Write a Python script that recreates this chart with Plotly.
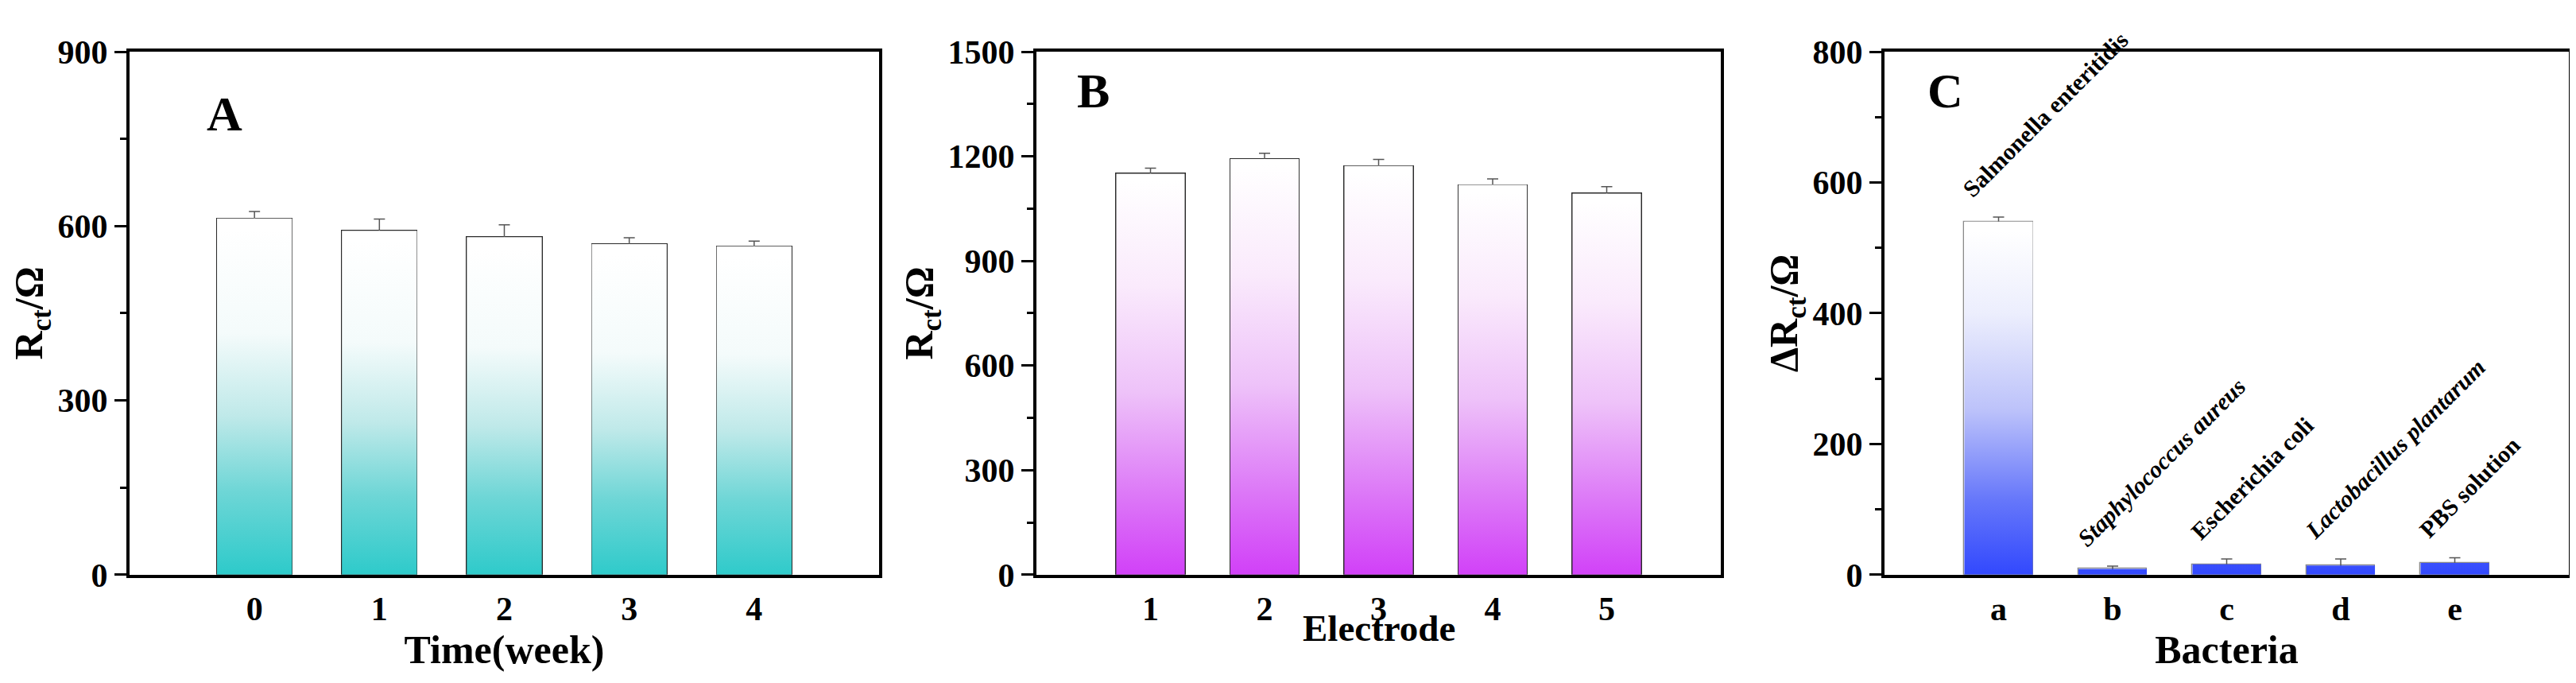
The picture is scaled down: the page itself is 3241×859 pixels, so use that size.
import plotly.graph_objects as go

# panel A: stability over time
weeks = [0, 1, 2, 3, 4]
rct_time = [613, 592, 581, 569, 565]
rct_time_err = [12, 20, 21, 11, 9]

# panel B: reproducibility between electrodes
electrodes = [1, 2, 3, 4, 5]
rct_elec = [1150, 1192, 1172, 1118, 1093]
rct_elec_err = [16, 17, 19, 17, 20]

# panel C: selectivity
bact_pos = [0, 1, 2, 3, 4]
bact_ticks = ['a', 'b', 'c', 'd', 'e']
bact_names = ['Salmonella enteritidis', '<i>Staphylococcus aureus</i>', 'Escherichia coli',
              '<i>Lactobacillus plantarum</i>', 'PBS solution']
d_rct = [540, 9, 16, 14, 18]
d_rct_err = [7, 4, 8, 10, 8]

W, H = 3241, 859
FONT = 'Liberation Serif'
BW = 0.6

scale_a = [[0, '#16c6c6'], [0.3, '#6ed6d6'], [0.5, '#bfe9e9'], [0.72, '#f4fbfb'], [1, '#ffffff']]
scale_b = [[0, '#cd2cf8'], [0.25, '#dc76f7'], [0.5, '#eec2f9'], [0.75, '#faeafc'], [1, '#ffffff']]
scale_c = [[0, '#1d36ff'], [0.28, '#6677fa'], [0.52, '#bcc2fa'], [0.78, '#eceefd'], [1, '#ffffff']]

fig = go.Figure()


def add_panel(xs, ys, errs, scale, edge, ew, xa, ya, shared=False):
    # gradient fill per bar (panel C shares one gradient over the tallest bar)
    for x, y in zip(xs, ys):
        top = max(ys) if shared else y
        fig.add_trace(go.Scatter(
            x=[x - BW / 2, x - BW / 2, x + BW / 2, x + BW / 2, x - BW / 2],
            y=[0, y, y, 0, 0],
            mode='lines', fill='toself', line=dict(width=0),
            fillgradient=dict(type='vertical', colorscale=scale, start=0, stop=top),
            xaxis=xa, yaxis=ya, showlegend=False, hoverinfo='skip'))
    fig.add_trace(go.Bar(
        x=xs, y=ys, width=BW, marker=dict(color='rgba(0,0,0,0)', line=dict(color=edge, width=ew)),
        error_y=dict(type='data', array=errs, color='#555555', thickness=1.5, width=7),
        xaxis=xa, yaxis=ya, showlegend=False))


add_panel(weeks, rct_time, rct_time_err, scale_a, '#2a2a2a', 2, 'x', 'y')
add_panel(electrodes, rct_elec, rct_elec_err, scale_b, '#2a2a2a', 2, 'x2', 'y2')
add_panel(bact_pos, d_rct, d_rct_err, scale_c, '#8a8a8a', 1.3, 'x3', 'y3', shared=True)

for name, x, y, e in zip(bact_names, bact_pos, d_rct, d_rct_err):
    fig.add_annotation(x=x, y=y + e, xref='x3', yref='y3', text='<b>' + name + '</b>',
                       showarrow=False, textangle=-45, xanchor='left', yanchor='bottom',
                       xshift=-54, yshift=16, font=dict(family=FONT, size=30, color='black'))

for letter, xr, yr, px, py in [('A', 'x', 'y', 0.127, 0.881), ('B', 'x2', 'y2', 0.0825, 0.925),
                               ('C', 'x3', 'y3', 0.0894, 0.925)]:
    fig.add_annotation(x=px, y=py, xref=xr + ' domain', yref=yr + ' domain', text='<b>' + letter + '</b>',
                       showarrow=False, xanchor='center', yanchor='middle',
                       font=dict(family=FONT, size=62, color='black'))

tickfont = dict(family=FONT, size=42, color='black', weight='bold')
titlefont = dict(family=FONT, size=50, color='black', weight='bold')
ytitlefont = dict(family=FONT, size=50, color='black', weight='bold')
ydom = [1 - 732 / H, 1 - 37 / H]

# the Electrode title sits tight against its tick labels, so it is an annotation
fig.add_annotation(x=0.5, y=(732 - 803) / 695, xref='x2 domain', yref='y2 domain',
                   text='<b>Electrode</b>', showarrow=False, xanchor='center', yanchor='middle',
                   font=dict(family=FONT, size=47, color='black'))


def xax(dom, rng, tv, tt, title, standoff):
    return dict(domain=dom, range=rng, tickvals=tv, ticktext=tt, showline=True, linewidth=4,
                linecolor='black', mirror=True, ticks='', showgrid=False, zeroline=False,
                tickfont=tickfont, ticklabelstandoff=3,
                title=dict(text=title, font=titlefont, standoff=standoff))


def yax(rng, dtick, title, anchor):
    return dict(domain=ydom, range=rng, dtick=dtick, showline=True, linewidth=4, linecolor='black',
                mirror=True, ticks='outside', ticklen=15, tickwidth=3, tickcolor='black',
                minor=dict(ticks='outside', ticklen=8, tickwidth=3, tickcolor='black', dtick=dtick / 2),
                showgrid=False, zeroline=False, tickfont=tickfont, anchor=anchor,
                title=dict(text=title, font=ytitlefont, standoff=4))


fig.update_layout(
    width=W, height=H, margin=dict(l=0, r=0, t=0, b=0),
    paper_bgcolor='white', plot_bgcolor='white', bargap=0,
    xaxis=xax([155 / W, 1098 / W], [-1, 5], weeks, [str(w) for w in weeks], 'Time(week)', 0),
    yaxis=yax([0, 900], 300, 'R<sub>ct</sub>/Ω', 'x'),
    xaxis2=xax([1296 / W, 2157 / W], [0, 6], electrodes, [str(e) for e in electrodes], '', 0),
    yaxis2=yax([0, 1500], 300, 'R<sub>ct</sub>/Ω', 'x2'),
    xaxis3=xax([2363 / W, 3224 / W], [-1, 5], bact_pos, bact_ticks, 'Bacteria', 8),
    yaxis3=yax([0, 800], 200, 'ΔR<sub>ct</sub>/Ω', 'x3'),
)
fig.layout.xaxis.anchor = 'y'
fig.layout.xaxis2.anchor = 'y2'
fig.layout.xaxis3.anchor = 'y3'

fig.write_html("out.html")
